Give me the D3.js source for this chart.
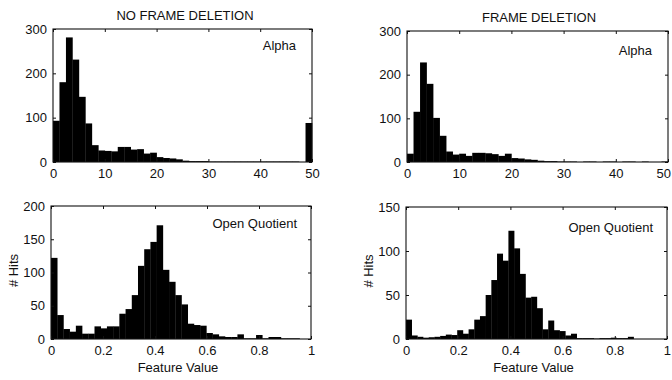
<!DOCTYPE html>
<html>
<head>
<meta charset="utf-8">
<script src="https://cdn.jsdelivr.net/npm/d3@7/dist/d3.min.js"></script>
<style>
  html, body { margin: 0; padding: 0; background: #fff; }
  svg { display: block; }
  text { font-family: "Liberation Sans", Arial, Helvetica, sans-serif; fill: #111; }
</style>
</head>
<body>
<svg id="chart" width="672" height="380"></svg>
<script>
// ---------- DATA ----------
const columnTitles = ["NO FRAME DELETION", "FRAME DELETION"];
const featureNames = ["Alpha", "Open Quotient"];
const xLabel = "Feature Value";
const yLabel = "# Hits";

// Alpha histograms: 40 bins over [0, 50]
const alphaRange = [0, 50];
const alphaNoDeletion = [93, 180, 281, 231, 147, 87, 38, 26, 25, 24,
                         34, 34, 28, 29, 19, 21, 11, 9, 8, 6,
                         3, 2, 2, 2, 1, 1, 1, 1, 1, 1,
                         1, 1, 1, 1, 1, 1, 1, 1, 0, 88];
const alphaDeletion   = [19, 115, 228, 179, 101, 60, 24, 17, 19, 14,
                         21, 21, 20, 18, 14, 19, 9, 8, 6, 5,
                         3, 2, 2, 1, 1, 1, 0, 1, 1, 0,
                         1, 1, 0, 1, 1, 0, 1, 0, 0, 1];
const alphaXTicks = [0, 10, 20, 30, 40, 50];
const alphaYTicks = [0, 100, 200, 300];

// Open Quotient histograms: 40 bins over the data range
const oqNoDeletionRange = [0, 0.956];
const oqNoDeletion = [122, 36, 15, 11, 20, 8, 8, 19, 16, 19,
                      19, 38, 45, 66, 110, 135, 146, 171, 104, 86,
                      66, 52, 23, 21, 20, 9, 7, 4, 3, 3,
                      7, 1, 1, 6, 1, 3, 3, 1, 1, 1];
const oqDeletionRange = [0, 0.872];
const oqDeletion = [22, 4, 2.5, 1.5, 2, 2.5, 3.5, 5, 4.5, 10,
                    6, 11, 22, 26, 50, 67, 97, 89, 123, 103,
                    74, 47, 48, 35, 11, 21, 10, 9, 4, 6,
                    1, 1, 1, 0.5, 1, 1, 1.5, 1, 1, 2.5];
const oqXTicks = [0, 0.2, 0.4, 0.6, 0.8, 1];
const oqYTicksNoDel = [0, 50, 100, 150, 200];
const oqYTicksDel = [0, 50, 100, 150];

// ---------- LAYOUT ----------
const panels = [
  { counts: alphaNoDeletion, range: alphaRange, xDom: [0, 50], yDom: [0, 300],
    xTicks: alphaXTicks, yTicks: alphaYTicks, label: featureNames[0],
    box: { x0: 53, x1: 312, y0: 29, y1: 162 }, labelPos: [296, 50], title: columnTitles[0], titlePos: [185, 19.5],
    showX: false, showY: false },
  { counts: alphaDeletion, range: alphaRange, xDom: [0, 50], yDom: [0, 300],
    xTicks: alphaXTicks, yTicks: alphaYTicks, label: featureNames[0],
    box: { x0: 407, x1: 668, y0: 31, y1: 162 }, labelPos: [652, 55], title: columnTitles[1], titlePos: [539, 21.5],
    showX: false, showY: false },
  { counts: oqNoDeletion, range: oqNoDeletionRange, xDom: [0, 1], yDom: [0, 200],
    xTicks: oqXTicks, yTicks: oqYTicksNoDel, label: featureNames[1],
    box: { x0: 51, x1: 311, y0: 206, y1: 339 }, labelPos: [297, 228],
    showX: true, showY: true },
  { counts: oqDeletion, range: oqDeletionRange, xDom: [0, 1], yDom: [0, 150],
    xTicks: oqXTicks, yTicks: oqYTicksDel, label: featureNames[1],
    box: { x0: 406, x1: 667, y0: 207, y1: 339 }, labelPos: [653, 232],
    showX: true, showY: true }
];

const svg = d3.select("#chart");
const fs = 13;
const tickLen = 3;
const W = 672;

panels.forEach(p => {
  const b = p.box;
  const x = d3.scaleLinear().domain(p.xDom).range([b.x0, b.x1]);
  const y = d3.scaleLinear().domain(p.yDom).range([b.y1, b.y0]);
  const g = svg.append("g");

  const n = p.counts.length;
  const w = (p.range[1] - p.range[0]) / n;
  const bins = p.counts.map((c, i) => ({ x0: p.range[0] + i * w, x1: p.range[0] + (i + 1) * w, c }));

  g.selectAll("rect.bar").data(bins).enter().append("rect")
    .attr("class", "bar")
    .attr("x", d => x(d.x0))
    .attr("width", d => x(d.x1) - x(d.x0) + 0.3)
    .attr("y", d => y(d.c))
    .attr("height", d => y(0) - y(d.c))
    .attr("fill", "#000");

  // bottom axis (inward ticks)
  const xb = d3.axisBottom(x).tickValues(p.xTicks).tickSize(-tickLen).tickPadding(7)
    .tickFormat(d3.format("~g"));
  const gx = g.append("g").attr("transform", `translate(0,${b.y1})`).call(xb);
  // top mirrored ticks
  const gxt = g.append("g").attr("transform", `translate(0,${b.y0})`)
    .call(d3.axisTop(x).tickValues(p.xTicks).tickSize(-tickLen).tickFormat(""));
  // left axis
  const yl = d3.axisLeft(y).tickValues(p.yTicks).tickSize(-tickLen).tickPadding(6);
  const gy = g.append("g").attr("transform", `translate(${b.x0},0)`).call(yl);
  const gyr = g.append("g").attr("transform", `translate(${b.x1},0)`)
    .call(d3.axisRight(y).tickValues(p.yTicks).tickSize(-tickLen).tickFormat(""));

  [gx, gxt, gy, gyr].forEach(a => {
    a.select(".domain").remove();
    a.selectAll("line").attr("stroke", "#111").attr("stroke-width", 1);
    a.selectAll("text").attr("font-size", fs).attr("fill", "#111")
      .style("font-family", "'Liberation Sans', Arial, Helvetica, sans-serif");
  });

  // keep x tick labels inside the page
  gx.selectAll(".tick text").each(function () {
    const bb = this.getBBox();
    const tr = this.parentNode.getAttribute("transform");
    const tx = +tr.match(/translate\(([-\d.]+)/)[1];
    const right = tx + bb.x + bb.width;
    if (right > W - 1) d3.select(this).attr("dx", (W - 1 - right));
  });

  // frame
  g.append("rect")
    .attr("x", b.x0).attr("y", b.y0)
    .attr("width", b.x1 - b.x0).attr("height", b.y1 - b.y0)
    .attr("fill", "none").attr("stroke", "#111").attr("stroke-width", 1.1);

  // feature label
  g.append("text").attr("x", p.labelPos[0]).attr("y", p.labelPos[1])
    .attr("text-anchor", "end").attr("font-size", fs).text(p.label);

  if (p.title) {
    svg.append("text").attr("x", p.titlePos[0]).attr("y", p.titlePos[1])
      .attr("text-anchor", "middle").attr("font-size", fs).text(p.title);
  }
  if (p.showX) {
    svg.append("text").attr("x", (b.x0 + b.x1) / 2 - 3).attr("y", 372)
      .attr("text-anchor", "middle").attr("font-size", fs).text(xLabel);
  }
  if (p.showY) {
    svg.append("text")
      .attr("transform", `translate(${b.x0 - 33},${(b.y0 + b.y1) / 2 - 2}) rotate(-90)`)
      .attr("text-anchor", "middle").attr("font-size", fs).text(yLabel);
  }
});
</script>
</body>
</html>
